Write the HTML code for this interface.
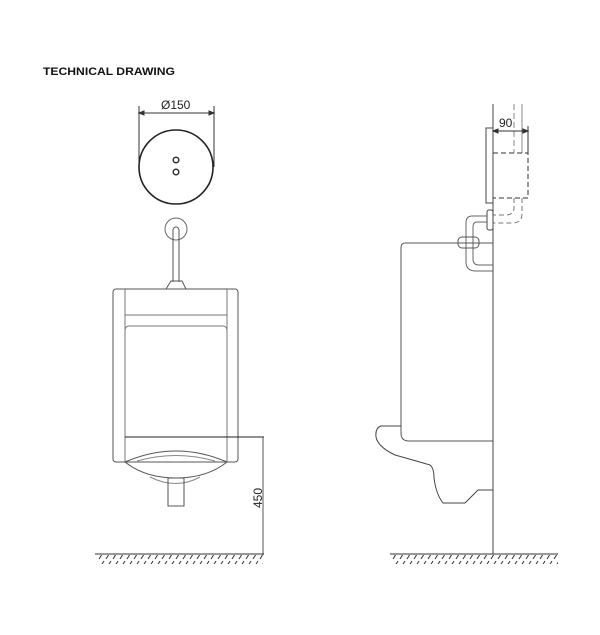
<!DOCTYPE html>
<html><head><meta charset="utf-8"><style>html,body{margin:0;padding:0;background:#fff;}svg{display:block}</style></head>
<body>
<svg width="600" height="635" viewBox="0 0 600 635" xmlns="http://www.w3.org/2000/svg">
<defs>
<pattern id="h" width="7" height="10" patternUnits="userSpaceOnUse">
<line x1="6" y1="1" x2="1" y2="9" stroke="#333" stroke-width="1"/>
</pattern>
</defs>
<text x="43" y="75" font-family="Liberation Sans, sans-serif" font-weight="bold" font-size="11" textLength="132" lengthAdjust="spacingAndGlyphs" fill="#111">TECHNICAL DRAWING</text>

<g fill="none" stroke="#333" stroke-width="1">
<!-- top view circle -->
<line x1="139" y1="106" x2="139" y2="167"/>
<line x1="214" y1="106" x2="214" y2="167"/>
<line x1="141" y1="113" x2="212" y2="113"/>
<path d="M139 113 l5 -2 v4 z M214 113 l-5 -2 v4 z" fill="#333"/>
<text x="161" y="109" font-family="Liberation Sans, sans-serif" font-size="12" fill="#222" stroke="none">Ø150</text>
<circle cx="176" cy="167" r="37" stroke-width="1.6" stroke="#222"/>
<circle cx="176" cy="160" r="2.8" stroke-width="1.5"/>
<circle cx="176" cy="172" r="2.8" stroke-width="1.5"/>

<!-- front view -->
<circle cx="176" cy="229" r="11" stroke="#666"/>
<path d="M173 230 V282 M179 230 V282 M173 230 a3 3 0 0 1 6 0" stroke="#555"/>
<path d="M166 289 L171 281 H182 L186 289" stroke="#555"/>
<path d="M116 289 H235 a3 3 0 0 1 3 3 V459 a3 3 0 0 1 -3 3 H116 a3 3 0 0 1 -3 -3 V292 a3 3 0 0 1 3 -3 Z" stroke="#555"/>
<path d="M125 289 V462 M227 289 V462 M125 315 H227" stroke="#777"/>
<path d="M125 330 a4 4 0 0 1 4 -4 H223 a4 4 0 0 1 4 4" stroke="#777"/>
<line x1="125" y1="437" x2="264" y2="437" stroke="#222"/>
<path d="M125 462 Q176 440 227 462" stroke="#555"/>
<path d="M137 461 Q176 450 215 461" stroke="#888"/>
<path d="M125 462 Q145 478 176 478 Q207 478 227 462" stroke="#555"/>
<path d="M150 477 Q176 490 200 477" stroke="#888"/>
<rect x="168" y="478" width="16" height="28" stroke="#555"/>
<line x1="263" y1="437" x2="263" y2="555" stroke="#555"/>
<text x="0" y="0" transform="translate(262,508) rotate(-90)" font-family="Liberation Sans, sans-serif" font-size="12" fill="#222" stroke="none">450</text>
<line x1="95" y1="554" x2="264" y2="554" stroke="#333"/>
<rect x="97" y="555" width="166" height="9" fill="url(#h)" stroke="none"/>

<!-- side view -->
<line x1="493" y1="104" x2="493" y2="554" stroke="#444"/>
<line x1="514" y1="104" x2="514" y2="153" stroke="#888" stroke-dasharray="6,3"/>
<line x1="522" y1="104" x2="522" y2="153" stroke="#888"/>
<line x1="528" y1="126" x2="528" y2="153"/>
<line x1="495" y1="131" x2="526" y2="131"/>
<path d="M493 131 l5 -2 v4 z M528 131 l-5 -2 v4 z" fill="#333"/>
<text x="499" y="127" font-family="Liberation Sans, sans-serif" font-size="12" fill="#222" stroke="none">90</text>
<rect x="486" y="128" width="7" height="75" stroke="#444"/>
<path d="M493 153 H528 V198 H493" stroke-dasharray="5,3"/>
<path d="M514 198 V208 Q514 215 505 215 H493 M522 198 V214 Q522 223 512 223 H493" stroke="#777" stroke-dasharray="5,3"/>
<rect x="487" y="210" width="6" height="20" rx="2" stroke="#444"/>
<path d="M487 216 H472 Q466 216 466 223 V262 Q466 271 476 271 H493" stroke="#666"/>
<path d="M487 222 H477 Q473 222 473 227 V259 Q473 265 479 265 H493" stroke="#666"/>
<rect x="458" y="237" width="21" height="11" rx="4" stroke="#555"/>
<path d="M493 243 H405 Q401 243 401 248 V433 Q401 441 409 441 H493" stroke="#555"/>
<path d="M401 426 H381 Q375 428 376 437 Q378 447 395 455 Q420 462 430 465 Q434 468 434 478 Q436 494 443 503 H465 L478 490 H493" stroke="#444"/>
<line x1="390" y1="554" x2="558" y2="554" stroke="#333"/>
<rect x="392" y="555" width="166" height="9" fill="url(#h)" stroke="none"/>
</g>
</svg>
</body></html>
